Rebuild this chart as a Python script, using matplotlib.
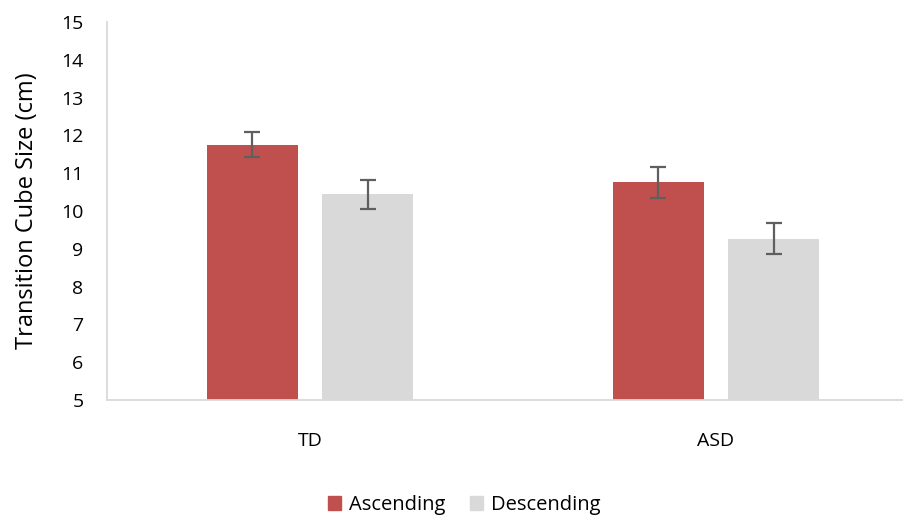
import numpy as np
import matplotlib.pyplot as plt
from matplotlib.patches import Patch
from matplotlib.lines import Line2D

groups = ["TD", "ASD"]
ascending = [11.75, 10.76]
ascending_err = [0.33, 0.41]
descending = [10.44, 9.27]
descending_err = [0.38, 0.41]

plt.rcParams['font.family'] = ['Open Sans', 'DejaVu Sans']

fig = plt.figure(figsize=(9.04, 5.17), dpi=100)
# plot area runs a little past the right edge of the image, as in the original
ax = fig.add_axes([107/904, 1-400/517, (919-107)/904, (400-22)/517])

x = np.arange(len(groups))
w = 0.224
off = 0.142
red = '#C0504D'
grey = '#D9D9D9'
ekw = dict(ecolor='#5f5f5f', elinewidth=1.6, capsize=6, capthick=1.6)

ax.bar(x - off, ascending, w, color=red, yerr=ascending_err, error_kw=ekw, zorder=2)
ax.bar(x + off, descending, w, color=grey, yerr=descending_err, error_kw=ekw, zorder=2)

ax.set_ylim(5, 15)
ax.set_xlim(-0.5, 1.5)
ax.set_yticks(range(5, 16))
ax.set_xticks(x)
ax.set_xticklabels(groups)
ax.tick_params(axis='both', length=0, labelsize=14, colors='#000000')
ax.tick_params(axis='y', pad=17)
ax.tick_params(axis='x', pad=23)

for s in ['top', 'right', 'bottom']:
    ax.spines[s].set_visible(False)
ax.spines['left'].set_color('#D9D9D9')
ax.spines['left'].set_linewidth(1.3)

# category axis line, drawn across to the image edge
fig.add_artist(Line2D([107/904, 1.0], [1-400/517, 1-400/517], transform=fig.transFigure,
                      color='#D9D9D9', linewidth=1.3))

ax.set_ylabel('Transition Cube Size (cm)', fontsize=17, labelpad=16)

handles = [Patch(color=red, label='Ascending'), Patch(color=grey, label='Descending')]
fig.legend(handles=handles, loc='center', bbox_to_anchor=(464/904, 1-505/517), ncol=2,
           frameon=False, fontsize=14.5, handlelength=0.65, handleheight=0.65,
           handletextpad=0.4, columnspacing=1.2)

fig.savefig('out.png', dpi=100)
